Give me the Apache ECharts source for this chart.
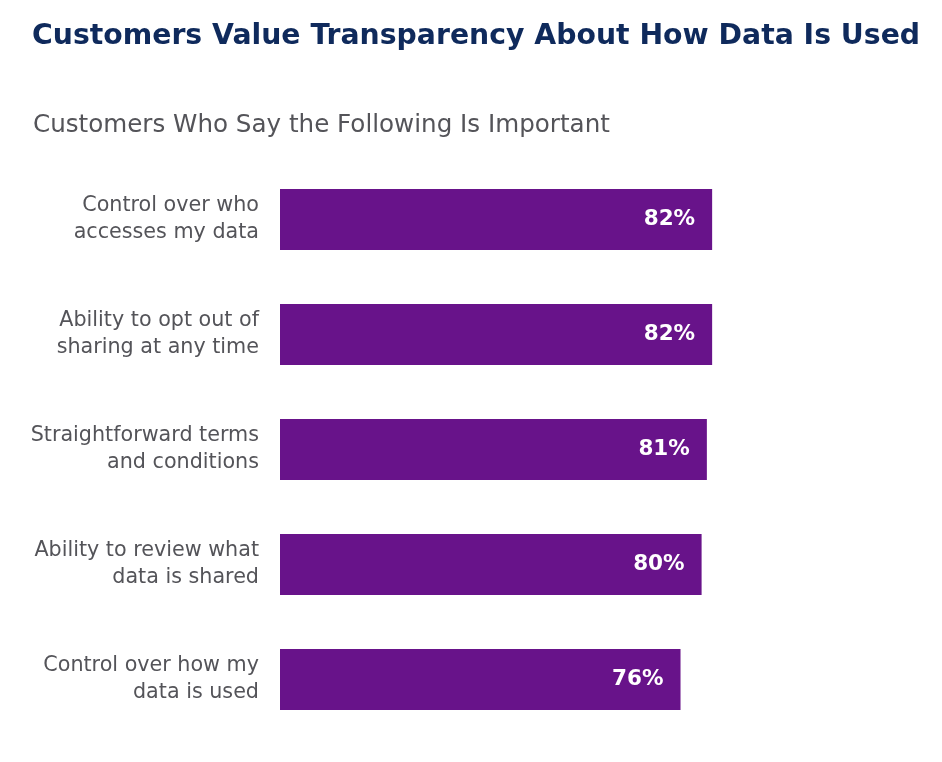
<!DOCTYPE html>
<html>
<head>
<meta charset="utf-8">
<script src="https://cdn.jsdelivr.net/npm/echarts@6/dist/echarts.min.js"></script>
<style>
html,body{margin:0;padding:0;background:#fff;}
#chart{width:942px;height:762px;}
</style>
</head>
<body>
<div id="chart"></div>
<script>
const titleText = "Customers Value Transparency About How Data Is Used";
const subtitleText = "Customers Who Say the Following Is Important";
const categories = [
  "Control over who\naccesses my data",
  "Ability to opt out of\nsharing at any time",
  "Straightforward terms\nand conditions",
  "Ability to review what\ndata is shared",
  "Control over how my\ndata is used"
];
const values = [82, 82, 81, 80, 76];

const FONT = 'DejaVu Sans';
const chart = echarts.init(document.getElementById('chart'), null, {renderer: 'canvas'});
chart.setOption({
  animation: false,
  backgroundColor: '#ffffff',
  title: [
    {
      text: titleText,
      left: 32, top: 23, padding: 0,
      textStyle: {fontFamily: FONT, fontWeight: 'bold', fontSize: 28.3, color: '#0f2a5c'}
    },
    {
      text: subtitleText,
      left: 33, top: 113, padding: 0,
      textStyle: {fontFamily: FONT, fontWeight: 'normal', fontSize: 24.6, color: '#545459'}
    }
  ],
  grid: {left: 280, top: 162, width: 527, height: 575, containLabel: false},
  xAxis: {
    type: 'value', min: 0, max: 100, show: false
  },
  yAxis: {
    type: 'category', data: categories, inverse: true,
    axisLine: {show: false}, axisTick: {show: false}, splitLine: {show: false},
    axisLabel: {
      margin: 21, align: 'right',
      fontFamily: FONT, fontSize: 20.7, lineHeight: 27, color: '#545459'
    }
  },
  series: [{
    type: 'bar', data: values, barWidth: 61,
    itemStyle: {color: '#68138a'},
    label: {
      show: true, position: 'insideRight', distance: 17,
      formatter: p => p.value + '%',
      fontFamily: FONT, fontWeight: 'bold', fontSize: 21.5, color: '#ffffff'
    }
  }]
});
</script>
</body>
</html>
